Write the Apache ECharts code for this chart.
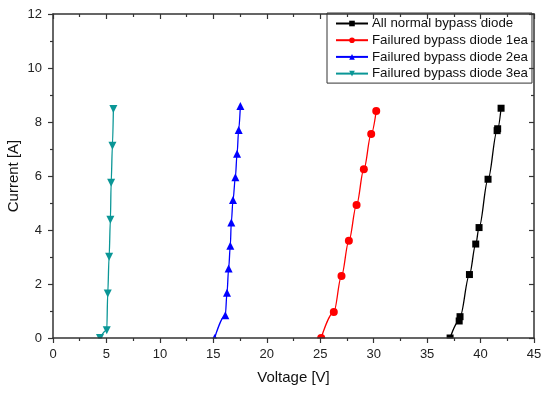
<!DOCTYPE html>
<html>
<head>
<meta charset="utf-8">
<script src="https://cdn.jsdelivr.net/npm/echarts@6/dist/echarts.min.js"></script>
<style>html,body{margin:0;padding:0;background:#fff}#c{width:550px;height:396px}</style>
</head>
<body>
<div id="c"></div>
<script>
const seriesNames = ['All normal bypass diode','Failured bypass diode 1ea','Failured bypass diode 2ea','Failured bypass diode 3ea'];
const voltageNormal = [37.15, 38.0, 38.08, 38.96, 39.55, 39.86, 40.70, 41.55, 41.6, 41.92];
const currentNormal = [0, 0.63, 0.79, 2.35, 3.48, 4.09, 5.88, 7.68, 7.75, 8.51];
const voltage1ea = [25.09, 26.27, 26.99, 27.68, 28.40, 29.08, 29.77, 30.24];
const current1ea = [0, 0.96, 2.30, 3.60, 4.93, 6.25, 7.56, 8.41];
const voltage2ea = [15.12, 16.12, 16.28, 16.43, 16.59, 16.68, 16.84, 17.06, 17.22, 17.37, 17.53];
const current2ea = [0, 0.84, 1.68, 2.57, 3.42, 4.28, 5.11, 5.95, 6.82, 7.70, 8.59];
const voltage3ea = [4.4, 5.03, 5.12, 5.25, 5.37, 5.44, 5.56, 5.65];
const current3ea = [0, 0.29, 1.65, 3.01, 4.38, 5.75, 7.12, 8.48];
const xTicks = {min: 0, max: 45, interval: 5};
const yTicks = {min: 0, max: 12, interval: 2};

const pairs = (xs, ys) => xs.map((x, i) => [x, ys[i]]);
const colors = ['#000000', '#ff0000', '#0000ff', '#0a9696'];
const symbols = ['rect', 'circle', 'triangle', 'triangle'];
const rotates = [0, 0, 0, 180];
const sizes = [7, 8, 8, 8];
const datasets = [pairs(voltageNormal, currentNormal), pairs(voltage1ea, current1ea), pairs(voltage2ea, current2ea), pairs(voltage3ea, current3ea)];

const font = '"Liberation Sans", Arial, sans-serif';
const axisColor = '#333';
const chart = echarts.init(document.getElementById('c'), null, {renderer: 'canvas'});
const baseX = {type: 'value', min: xTicks.min, max: xTicks.max, interval: xTicks.interval, z: 5,
  axisLine: {show: true, onZero: false, lineStyle: {color: axisColor, width: 1.5}},
  splitLine: {show: false}};
const baseY = {type: 'value', min: yTicks.min, max: yTicks.max, interval: yTicks.interval, z: 5,
  axisLine: {show: true, onZero: false, lineStyle: {color: axisColor, width: 1.5}},
  splitLine: {show: false}};
chart.setOption({
  animation: false,
  backgroundColor: '#fff',
  color: colors,
  grid: {left: 53, right: 16, top: 14, bottom: 58, containLabel: false, outerBoundsMode: 'none'},
  legend: {
    orient: 'vertical', left: 327, top: 13,
    padding: [4, 4, 3, 8], itemGap: 3.7, itemWidth: 32, itemHeight: 7,
    borderColor: '#333', borderWidth: 1, backgroundColor: '#fff',
    textStyle: {fontFamily: font, fontSize: 13.3, color: '#111', padding: [0, 0, 0, -1]},
    data: seriesNames
  },
  xAxis: [
    Object.assign({}, baseX, {position: 'bottom', name: 'Voltage [V]', nameLocation: 'middle', nameGap: 32,
      nameTextStyle: {fontFamily: font, fontSize: 15, color: '#111'},
      axisTick: {show: true, inside: false, length: 5, lineStyle: {color: axisColor, width: 1.2}},
      minorTick: {show: true, splitNumber: 2, length: 3, lineStyle: {color: axisColor, width: 1.2}},
      axisLabel: {fontFamily: font, fontSize: 13, color: '#222', margin: 10}}),
    Object.assign({}, baseX, {position: 'top',
      axisTick: {show: true, inside: true, length: 5, lineStyle: {color: axisColor, width: 1.2}},
      minorTick: {show: true, splitNumber: 2, length: 3, lineStyle: {color: axisColor, width: 1.2}},
      axisLabel: {show: false}})
  ],
  yAxis: [
    Object.assign({}, baseY, {position: 'left', name: 'Current [A]', nameLocation: 'middle', nameGap: 32,
      nameMoveOverlap: false,
      nameTextStyle: {fontFamily: font, fontSize: 15, color: '#111'},
      axisTick: {show: true, inside: false, length: 5, lineStyle: {color: axisColor, width: 1.2}},
      minorTick: {show: true, splitNumber: 2, length: 3, lineStyle: {color: axisColor, width: 1.2}},
      axisLabel: {fontFamily: font, fontSize: 13, color: '#222', margin: 11}}),
    Object.assign({}, baseY, {position: 'right',
      axisTick: {show: true, inside: true, length: 5, lineStyle: {color: axisColor, width: 1.2}},
      minorTick: {show: true, splitNumber: 2, length: 3, lineStyle: {color: axisColor, width: 1.2}},
      axisLabel: {show: false}})
  ],
  graphic: [{type: 'rect', shape: {x: 54, y: 338.5, width: 480, height: 6}, style: {fill: '#fff'}, z: 4, silent: true}],
  series: seriesNames.map((name, i) => ({
    name: name, type: 'line', xAxisIndex: 0, yAxisIndex: 0,
    data: datasets[i], smooth: 0.35, smoothMonotone: 'x',
    symbol: symbols[i], symbolRotate: rotates[i], symbolSize: sizes[i], showAllSymbol: true,
    lineStyle: {color: colors[i], width: 1.3}, itemStyle: {color: colors[i]}, z: 2
  }))
});
</script>
</body>
</html>
